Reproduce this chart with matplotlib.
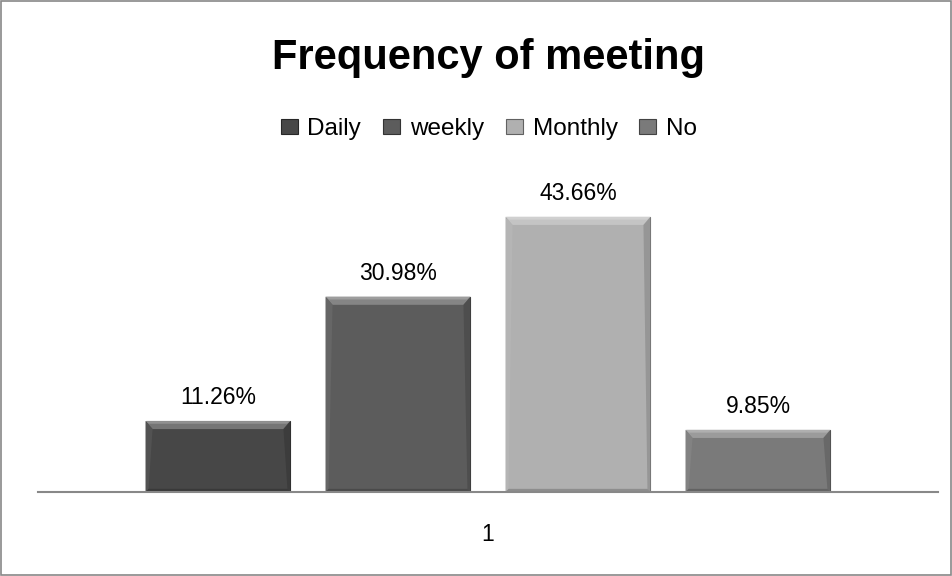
from matplotlib import pyplot as plt
from matplotlib.patches import Rectangle, Polygon
from matplotlib import colors as mcolors
import numpy as np

categories = ['Daily', 'weekly', 'Monthly', 'No']
values = [11.26, 30.98, 43.66, 9.85]
colors = ['#474747', '#5c5c5c', '#b0b0b0', '#7a7a7a']
group_labels = ['1']

plt.rcParams['font.family'] = ['Liberation Sans', 'DejaVu Sans']


def shade(col, f):
    # posvetli (f>0) ali potemni (f<0) barvo
    c = np.array(mcolors.to_rgb(col))
    if f > 0:
        c = c + (1 - c) * f
    else:
        c = c * (1 + f)
    return tuple(c)


fig = plt.figure(figsize=(9.53, 5.76), dpi=100)
# okvir okoli grafa
fig.patches.append(Rectangle((0.001, 0.001), 0.997, 0.997, transform=fig.transFigure,
                             fill=False, edgecolor='#888888', lw=1.2))

ax_w_px, ax_h_px = 900, 315
ax = fig.add_axes([38 / 953, 1 - 492 / 576, ax_w_px / 953, ax_h_px / 576])
ax.set_xlim(0.5, 1.5)
ax.set_ylim(0, 50)

# bevel v podatkovnih enotah
bx = 7 * 1.0 / ax_w_px
by = 8 * 50.0 / ax_h_px
sx = 3 * 1.0 / ax_w_px

step = 0.2
width = 0.161
for i, (cat, val, col) in enumerate(zip(categories, values, colors)):
    x = 1 + (i - (len(categories) - 1) / 2) * step
    ax.bar(x, val, width=width, color=col, edgecolor=shade(col, -0.45), lw=0.8, label=cat, zorder=2)
    x0, x1 = x - width / 2, x + width / 2
    # zgornji svetel rob
    ax.add_patch(Polygon([(x0, val), (x1, val), (x1 - bx, val - by), (x0 + bx, val - by)],
                         closed=True, color=shade(col, 0.25), lw=0, zorder=3))
    ax.add_patch(Polygon([(x0, val), (x1, val), (x1 - bx / 2, val - by / 3), (x0 + bx / 2, val - by / 3)],
                         closed=True, color=shade(col, 0.4), lw=0, zorder=3))
    # stranska robova
    ax.add_patch(Polygon([(x0, val), (x0 + bx, val - by), (x0 + sx, 0.4), (x0, 0)],
                         closed=True, color=shade(col, 0.06), lw=0, zorder=3))
    ax.add_patch(Polygon([(x1, val), (x1 - bx, val - by), (x1 - sx, 0.4), (x1, 0)],
                         closed=True, color=shade(col, -0.15), lw=0, zorder=3))
    # spodnji temen rob
    ax.add_patch(Polygon([(x0, 0), (x1, 0), (x1 - sx, 0.5), (x0 + sx, 0.5)],
                         closed=True, color=shade(col, -0.2), lw=0, zorder=3))
    ax.text(x, val + 1.9, f'{val:.2f}%', ha='center', va='bottom', fontsize=16.5)

ax.set_yticks([])
ax.set_xticks([1])
ax.set_xticklabels(group_labels, fontsize=16.5)
ax.tick_params(axis='x', length=0, pad=22)
for s in ['top', 'right', 'left']:
    ax.spines[s].set_visible(False)
ax.spines['bottom'].set_color('#888888')
ax.spines['bottom'].set_linewidth(1.5)
ax.spines['bottom'].set_zorder(4)

fig.text(0.513, 1 - 69 / 576, 'Frequency of meeting', ha='center', va='baseline',
         fontsize=30, fontweight='bold')

fig.legend(loc='center', bbox_to_anchor=(0.513, 1 - 129 / 576), ncol=4, frameon=False,
           fontsize=17.5, handlelength=0.7, handleheight=0.6, handletextpad=0.4,
           columnspacing=0.9)

fig.savefig('out.png', dpi=100)
